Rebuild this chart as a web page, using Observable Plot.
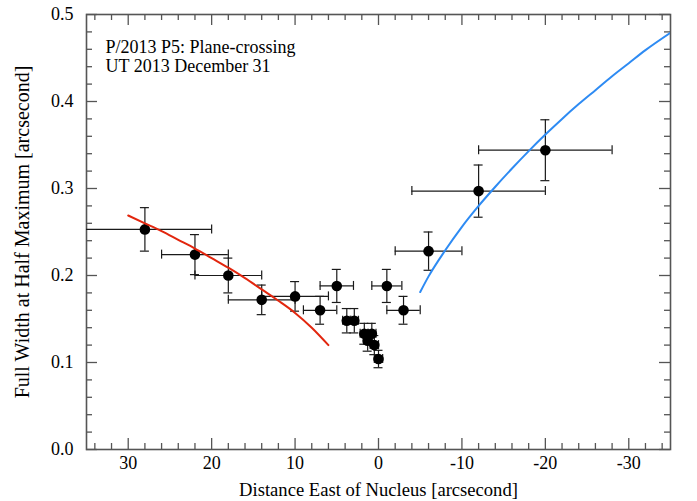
<!DOCTYPE html>
<html><head><meta charset="utf-8">
<script src="https://cdn.jsdelivr.net/npm/d3@7"></script>
<script src="https://cdn.jsdelivr.net/npm/@observablehq/plot@0.6"></script>
<style>body{margin:0;background:#fff}</style>
</head><body><div id="chart"></div>
<script>
// Measured points: distance east of nucleus [arcsec], FWHM [arcsec], and errors
const xVals = [28, 22, 18, 14, 10, 7, 5, 3.8, 2.9, 1.7, 0.8, 1.3, 0.5, 0, -1, -3, -6, -12, -20];
const yVals = [0.253, 0.224, 0.200, 0.172, 0.176, 0.160, 0.188, 0.148, 0.148, 0.133, 0.133, 0.125, 0.120, 0.104, 0.188, 0.160, 0.228, 0.297, 0.344];
const xErr  = [8, 4, 4, 4, 4, 2, 2, 0.5, 0.5, 0.5, 0.5, 0.5, 0.5, 0.5, 1.8, 2, 4, 8, 8];
const yErr  = [0.025, 0.023, 0.020, 0.017, 0.017, 0.016, 0.019, 0.014, 0.014, 0.012, 0.012, 0.012, 0.011, 0.010, 0.019, 0.016, 0.022, 0.030, 0.035];

// Red model curve (east side)
const redX = [30, 28, 26, 24, 22, 20, 18, 16, 14, 12, 10, 8, 6];
const redY = [0.269, 0.260, 0.251, 0.241, 0.231, 0.220, 0.209, 0.197, 0.184, 0.171, 0.157, 0.140, 0.120];

// Blue model curve (west side)
const blueX = [-5, -6, -8, -10, -12, -14, -16, -18, -20, -22, -24, -26, -28, -30, -32, -35];
const blueY = [0.181, 0.199, 0.229, 0.256, 0.280, 0.302, 0.323, 0.343, 0.362, 0.380, 0.397, 0.413, 0.429, 0.444, 0.459, 0.479];

// Ticks and labels
const xMajorTicks = [30, 20, 10, 0, -10, -20, -30];
const xMinorTicks = [34, 32, 28, 26, 24, 22, 18, 16, 14, 12, 8, 6, 4, 2, -2, -4, -6, -8, -12, -14, -16, -18, -22, -24, -26, -28, -32, -34];
const yMajorTicks = [0, 0.1, 0.2, 0.3, 0.4, 0.5];
const yMinorTicks = [0.02, 0.04, 0.06, 0.08, 0.12, 0.14, 0.16, 0.18, 0.22, 0.24, 0.26, 0.28, 0.32, 0.34, 0.36, 0.38, 0.42, 0.44, 0.46, 0.48];
const xLabel = "Distance East of Nucleus [arcsecond]";
const yLabel = "Full Width at Half Maximum [arcsecond]";
const annotation = ["P/2013 P5: Plane-crossing", "UT 2013 December 31"];

const W = 697, H = 501, mL = 86, mR = 27, mT = 14, mB = 52;
const innerW = W - mL - mR, innerH = H - mT - mB;
const points = xVals.map((x, i) => ({x, y: yVals[i], xe: xErr[i], ye: yErr[i]}));
const red = redX.map((x, i) => ({x, y: redY[i]}));
const blue = blueX.map((x, i) => ({x, y: blueY[i]}));

const axisColor = "#555";
const barColor = "#1a1a1a";
const major = 11, minor = 6;

const chart = Plot.plot({
  width: W, height: H,
  marginLeft: mL, marginRight: mR, marginTop: mT, marginBottom: mB,
  x: {domain: [35, -35]},
  y: {domain: [0, 0.5]},
  style: {fontFamily: "'Liberation Serif', 'Times New Roman', serif", fontSize: "18px", color: "#000", background: "#fff"},
  marks: [
    // inward ticks on all four sides
    Plot.ruleX(xMajorTicks, {x: d => d, insetTop: innerH - major, stroke: axisColor, strokeWidth: 1.3}),
    Plot.ruleX(xMajorTicks, {x: d => d, insetBottom: innerH - major, stroke: axisColor, strokeWidth: 1.3}),
    Plot.ruleX(xMinorTicks, {x: d => d, insetTop: innerH - minor, stroke: axisColor, strokeWidth: 1.3}),
    Plot.ruleX(xMinorTicks, {x: d => d, insetBottom: innerH - minor, stroke: axisColor, strokeWidth: 1.3}),
    Plot.ruleY(yMajorTicks, {y: d => d, insetRight: innerW - major, stroke: axisColor, strokeWidth: 1.3}),
    Plot.ruleY(yMajorTicks, {y: d => d, insetLeft: innerW - major, stroke: axisColor, strokeWidth: 1.3}),
    Plot.ruleY(yMinorTicks, {y: d => d, insetRight: innerW - minor, stroke: axisColor, strokeWidth: 1.3}),
    Plot.ruleY(yMinorTicks, {y: d => d, insetLeft: innerW - minor, stroke: axisColor, strokeWidth: 1.3}),
    Plot.frame({stroke: axisColor, strokeWidth: 1.6}),
    Plot.axisX({ticks: xMajorTicks, tickSize: 0, tickPadding: 7, label: null, tickFormat: d => String(d), fontSize: 18}),
    Plot.axisY({ticks: yMajorTicks, tickSize: 0, tickPadding: 13, label: null, tickFormat: d3.format(".1f"), fontSize: 18}),
    // error bars
    Plot.ruleY(points, {y: "y", x1: d => d.x - d.xe, x2: d => d.x + d.xe, stroke: barColor, strokeWidth: 1.2, clip: true}),
    Plot.ruleX(points, {x: "x", y1: d => d.y - d.ye, y2: d => d.y + d.ye, stroke: barColor, strokeWidth: 1.2}),
    Plot.ruleX(points, {x: d => d.x - d.xe, y1: "y", y2: "y", insetTop: -4.5, insetBottom: -4.5, stroke: barColor, strokeWidth: 1.2, clip: true}),
    Plot.ruleX(points, {x: d => d.x + d.xe, y1: "y", y2: "y", insetTop: -4.5, insetBottom: -4.5, stroke: barColor, strokeWidth: 1.2, clip: true}),
    Plot.ruleY(points, {y: d => d.y - d.ye, x1: "x", x2: "x", insetLeft: -4.5, insetRight: -4.5, stroke: barColor, strokeWidth: 1.2}),
    Plot.ruleY(points, {y: d => d.y + d.ye, x1: "x", x2: "x", insetLeft: -4.5, insetRight: -4.5, stroke: barColor, strokeWidth: 1.2}),
    Plot.dot(points, {x: "x", y: "y", r: 5.3, fill: "#000", stroke: "none"}),
    // model curves
    Plot.line(red, {x: "x", y: "y", stroke: "#e2260e", strokeWidth: 2, curve: "monotone-x"}),
    Plot.line(blue, {x: "x", y: "y", stroke: "#2e8bf3", strokeWidth: 2, curve: "monotone-x", clip: true}),
    // texts
    Plot.text([annotation.join("\n")], {frameAnchor: "top-left", dx: 19, dy: 25, textAnchor: "start", lineAnchor: "top", lineHeight: 1.06, fontSize: 18}),
    Plot.text([xLabel], {frameAnchor: "bottom", dy: 41, textAnchor: "middle", lineAnchor: "middle", fontSize: 18.6}),
    Plot.text([yLabel], {frameAnchor: "left", dx: -64, rotate: -90, textAnchor: "middle", lineAnchor: "middle", fontSize: 20})
  ]
});
document.getElementById("chart").appendChild(chart);
</script>
</body></html>
